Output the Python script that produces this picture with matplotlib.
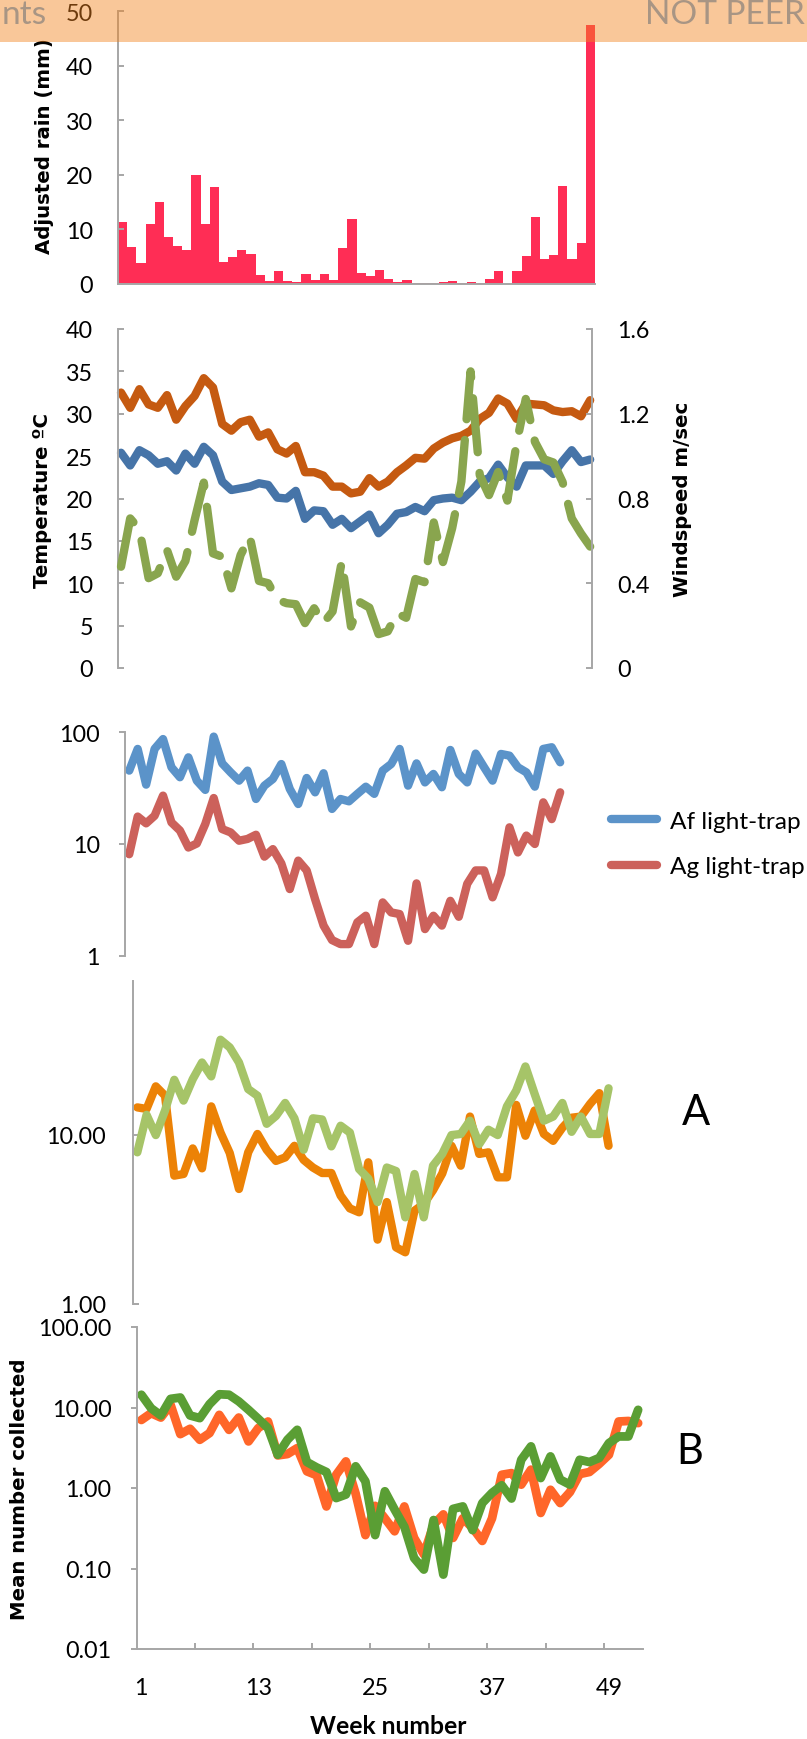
import matplotlib
matplotlib.use('Agg')
import matplotlib.pyplot as plt
from matplotlib.patches import Rectangle

plt.rcParams['font.family'] = ['Lato', 'DejaVu Sans']

weeks = list(range(1, 53))

# weekly rain (mm)
rain = [11.3, 6.8, 3.8, 11.0, 15.1, 8.6, 7.0, 6.2, 20.0, 11.0, 17.8, 4.0, 4.9, 6.3, 5.5, 1.7,
        0.5, 2.4, 0.5, 0.4, 1.8, 0.7, 1.8, 0.7, 6.6, 12.0, 2.0, 1.4, 2.6, 0.9, 0.3, 0.7,
        0.2, 0.1, 0.1, 0.4, 0.5, 0.2, 0.4, 0.2, 0.9, 2.4, 0.05, 2.4, 5.2, 12.2, 4.6, 5.4,
        17.9, 4.5, 7.6, 47.4]

# temperature (C) and windspeed (m/s)
tmax = [32.5, 30.7, 32.9, 31.1, 30.7, 32.2, 29.3, 30.9, 32.1, 34.2, 33.1, 28.8, 28.0, 29.0,
        29.3, 27.3, 27.8, 25.8, 25.3, 26.2, 23.1, 23.1, 22.7, 21.4, 21.4, 20.6, 20.8, 22.4,
        21.4, 22.0, 23.1, 23.9, 24.8, 24.7, 25.9, 26.6, 27.1, 27.4, 28.0, 29.4, 30.1, 31.8,
        31.2, 29.4, 31.2, 31.1, 31.0, 30.4, 30.2, 30.3, 29.7, 31.6]
tmin = [25.4, 23.9, 25.7, 25.1, 24.1, 24.4, 23.3, 25.3, 24.1, 26.1, 25.1, 22.0, 21.0, 21.2,
        21.4, 21.8, 21.6, 20.1, 20.0, 20.9, 17.6, 18.6, 18.5, 16.9, 17.6, 16.5, 17.3, 18.1,
        15.9, 16.9, 18.2, 18.4, 19.0, 18.5, 19.8, 20.0, 20.1, 19.8, 20.8, 22.0, 22.4, 24.0,
        22.5, 21.4, 23.9, 23.9, 23.9, 22.9, 24.4, 25.7, 24.3, 24.6]
wind = [0.478, 0.706, 0.655, 0.424, 0.447, 0.557, 0.431, 0.505, 0.698, 0.875, 0.541, 0.525,
        0.376, 0.533, 0.62, 0.411, 0.40, 0.322, 0.306, 0.301, 0.212, 0.282, 0.212, 0.267,
        0.502, 0.196, 0.31, 0.285, 0.16, 0.173, 0.259, 0.237, 0.42, 0.405, 0.687, 0.50,
        0.66, 0.88, 1.40, 0.91, 0.816, 0.925, 0.79, 1.06, 1.27, 1.067, 0.985, 0.97, 0.878,
        0.706, 0.635, 0.573]

# light-trap catches
af = [45.4, 71, 34, 71, 87, 48.6, 39.6, 59.7, 36.9, 30.5, 91.5, 52.7, 43.8, 36.9, 45.4, 25.3,
      33.3, 38.2, 52, 31.1, 22.8, 39, 29, 43, 20.6, 25.3, 24.1, 28.1, 32.6, 28.1, 45.4, 52,
      71, 33.3, 52.7, 35.6, 42.4, 32.2, 69.5, 42.4, 35.6, 64.5, 48.6, 36.9, 64, 61.8, 48.6,
      43.8, 32.6, 71, 73.5, 53.9]
ag = [8.1, 17.6, 15.3, 17.9, 27.1, 15.6, 13.2, 9.3, 10.1, 15.1, 25.8, 13.6, 12.7, 10.7, 11.1,
      12.1, 7.7, 9.0, 6.7, 3.95, 7.1, 5.8, 3.2, 1.86, 1.38, 1.27, 1.27, 1.99, 2.28, 1.27, 3.0,
      2.44, 2.36, 1.36, 4.44, 1.73, 2.28, 1.86, 3.1, 2.23, 4.4, 5.8, 5.8, 3.33, 5.4, 14.1,
      8.4, 11.9, 10, 23.6, 16.7, 29]

# panel A
a_orange = [14.5, 14.2, 19.3, 17.0, 5.73, 5.86, 8.3, 6.33, 14.7, 10.3, 7.8, 4.78, 7.87, 10.1,
            8.15, 7.0, 7.34, 8.6, 7.1, 6.4, 5.94, 5.94, 4.37, 3.67, 3.48, 6.87, 2.4, 4.0,
            2.16, 2.02, 3.56, 3.9, 4.7, 5.9, 8.6, 6.56, 12.8, 7.7, 7.87, 5.6, 5.6, 15.0,
            9.86, 13.9, 10.1, 9.2, 11.0, 12.6, 12.8, 15.2, 17.6, 8.6]
a_green = [7.87, 13.1, 9.95, 13.9, 21.1, 15.9, 21.3, 26.7, 22.1, 36.4, 32.8, 26.7, 18.6, 17.0,
           11.6, 12.9, 15.4, 12.5, 8.15, 12.5, 12.3, 8.53, 11.3, 10.3, 6.27, 5.5, 4.0, 6.4,
           6.1, 3.25, 5.86, 3.25, 6.56, 7.7, 9.95, 10.1, 12.1, 8.8, 10.7, 9.95, 14.7, 18.2,
           25.3, 17.4, 12.1, 12.8, 15.4, 10.4, 12.8, 10.1, 10.1, 18.8]

# panel B
b_orange = [7.0, 8.5, 7.5, 10.8, 4.67, 5.44, 3.97, 4.81, 8.1, 5.28, 7.5, 3.79, 5.55, 6.7,
            2.54, 2.64, 3.13, 1.61, 1.44, 0.59, 1.46, 2.14, 0.85, 0.26, 0.6, 0.42, 0.29, 0.59,
            0.24, 0.15, 0.35, 0.47, 0.24, 0.42, 0.32, 0.22, 0.42, 1.46, 1.53, 1.1, 1.69, 0.49,
            0.95, 0.65, 0.89, 1.49, 1.58, 1.99, 2.59, 6.7, 6.8, 6.4]
b_green = [14.4, 9.8, 7.96, 12.8, 13.3, 7.96, 7.38, 11.0, 14.6, 14.4, 11.9, 9.35, 7.24, 5.55,
           2.59, 3.98, 5.28, 2.1, 1.8, 1.58, 0.75, 0.83, 1.86, 1.21, 0.26, 0.91, 0.54, 0.33,
           0.135, 0.097, 0.40, 0.084, 0.55, 0.59, 0.30, 0.65, 0.87, 1.08, 0.74, 2.24, 3.29,
           1.33, 2.47, 1.27, 1.1, 2.24, 2.1, 2.36, 3.61, 4.37, 4.37, 9.35]

W, H = 807, 1740
GREY = '#a6a6a6'
TICK = 16.8
LW = 6

fig = plt.figure(figsize=(W / 100, H / 100), dpi=100)


def fx(x):
    return x / W


def fy(y):
    return 1 - y / H


def add_ax(l, r, t, b):
    return fig.add_axes([l / W, 1 - b / H, (r - l) / W, (b - t) / H])


def style(ax, show):
    ax.set_facecolor('none')
    for s in ['left', 'right', 'top', 'bottom']:
        ax.spines[s].set_visible(s in show)
        ax.spines[s].set_color(GREY)
        ax.spines[s].set_linewidth(1.4)
    ax.tick_params(colors=GREY, labelcolor='black', width=1.4, length=4.3, labelsize=TICK)


def line(ax, y, color, **kw):
    return ax.plot(weeks, y, color=color, lw=LW, solid_capstyle='round',
                   solid_joinstyle='round', clip_on=False, **kw)


# ---- rain
ax1 = add_ax(118, 595, 12.3, 285)
ax1.bar(weeks, rain, width=1.0, color='#ff2d55', lw=0)
ax1.set_xlim(0.5, 52.5)
ax1.set_ylim(0, 50)
ax1.set_yticks(range(0, 51, 10))
ax1.set_xticks([])
style(ax1, ['left', 'bottom'])
ax1.tick_params(axis='y', direction='in', pad=18)

# ---- temperature / wind
ax2 = add_ax(118, 592, 330, 669)
line(ax2, tmax, '#c55a11')
line(ax2, tmin, '#4674a8')
ax2.set_xlim(0.674, 52.2)
ax2.set_ylim(0, 40)
ax2.set_yticks(range(0, 41, 5))
ax2.set_xticks([])
style(ax2, ['left'])
ax2.tick_params(axis='y', direction='in', pad=18)

ax2b = ax2.twinx()
ax2b.plot(weeks, wind, color='#89a54e', lw=LW, dashes=(6.5, 2.5), dash_capstyle='round',
          dash_joinstyle='round', clip_on=False)
ax2b.set_ylim(0, 1.6)
ax2b.set_yticks([0, 0.4, 0.8, 1.2, 1.6], labels=['0', '0.4', '0.8', '1.2', '1.6'])
style(ax2b, ['right'])
ax2b.tick_params(axis='y', direction='in', pad=18)

# ---- light traps
ax3 = add_ax(125, 564.4, 733.3, 956.7)
line(ax3, af, '#5b93c9', label='Af light-trap')
line(ax3, ag, '#cc615b', label='Ag light-trap')
ax3.set_yscale('log')
ax3.set_xlim(0.5, 52.5)
ax3.set_ylim(1, 100)
ax3.set_yticks([1, 10, 100], labels=['1', '10', '100'])
ax3.yaxis.set_minor_locator(plt.NullLocator())
ax3.set_xticks([])
style(ax3, ['left'])
ax3.tick_params(axis='y', direction='out', pad=13.7)
ax3.legend(loc='center left', bbox_to_anchor=(fx(611), fy(845)), bbox_transform=fig.transFigure,
           frameon=False, fontsize=17.6, handlelength=1.9, handletextpad=0.5,
           labelspacing=1.0, borderpad=0, borderaxespad=0)

# ---- panel A
ax4 = add_ax(132.7, 613.2, 982, 1305)
line(ax4, a_orange, '#ec8206')
line(ax4, a_green, '#a6c468')
ax4.set_yscale('log')
ax4.set_xlim(0.5, 52.5)
ax4.set_ylim(1, 80.9)
ax4.set_yticks([1, 10], labels=['1.00', '10.00'])
ax4.yaxis.set_minor_locator(plt.NullLocator())
ax4.set_xticks([])
style(ax4, ['left'])
ax4.tick_params(axis='y', direction='in', pad=19)

# ---- panel B
ax5 = add_ax(136.5, 643, 1328, 1650)
ax5.plot(weeks, b_orange, color='#ff6629', lw=6.3, solid_capstyle='round',
         solid_joinstyle='round', clip_on=False)
ax5.plot(weeks, b_green, color='#5a9e34', lw=6.3, solid_capstyle='round',
         solid_joinstyle='round', clip_on=False)
ax5.set_yscale('log')
ax5.set_xlim(0.5, 52.5)
ax5.set_ylim(0.01, 100)
ax5.set_yticks([0.01, 0.1, 1, 10, 100], labels=['0.01', '0.10', '1.00', '10.00', '100.00'])
ax5.yaxis.set_minor_locator(plt.NullLocator())
ax5.set_xticks([6.5, 12.5, 18.5, 24.5, 30.5, 36.5, 42.5, 48.5], labels=[])
ax5.set_xticks([1, 13, 25, 37, 49], labels=['1', '13', '25', '37', '49'], minor=True)
style(ax5, ['left', 'bottom'])
ax5.tick_params(axis='y', direction='out', pad=13.7)
ax5.tick_params(axis='x', which='major', direction='in')
ax5.tick_params(axis='x', which='minor', length=0, pad=20, labelsize=TICK)

# ---- axis titles and panel letters
bold = dict(fontweight='bold', family='DejaVu Sans', fontsize=14.2, ha='center', va='center')
fig.text(fx(44.5), fy(146), 'Adjusted rain (mm)', rotation=90, **bold)
fig.text(fx(43), fy(500), 'Temperature ºC', rotation=90, **bold)
fig.text(fx(683), fy(499), 'Windspeed m/sec', rotation=90, **bold)
fig.text(fx(20), fy(1489), 'Mean number collected', rotation=90, **bold)
fig.text(fx(388), fy(1727), 'Week number', fontweight='bold', fontsize=17.8,
         ha='center', va='center')
fig.text(fx(696), fy(1113), 'A', fontsize=30, ha='center', va='center')
fig.text(fx(690), fy(1452), 'B', fontsize=30, ha='center', va='center')

# ---- preprint banner across the top
fig.add_artist(Rectangle((0, fy(43)), 1, 43 / H, transform=fig.transFigure,
                         facecolor=(243 / 255, 132 / 255, 30 / 255), alpha=0.45, lw=0, zorder=10))
fig.text(fx(2), fy(15), 'nts', fontsize=24, color='#a89584', ha='left', va='center',
         zorder=11)
fig.text(fx(805), fy(15), 'NOT PEER', fontsize=24, color='#a89584', ha='right',
         va='center', zorder=11)

fig.savefig('out.png', dpi=100)
